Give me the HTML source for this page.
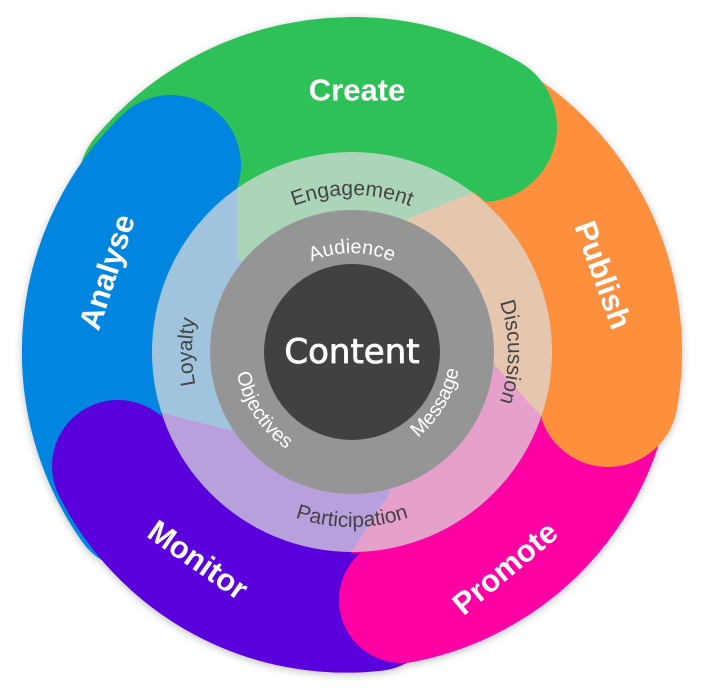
<!DOCTYPE html>
<html><head><meta charset="utf-8"><style>
html,body{margin:0;padding:0;background:#fff;overflow:hidden;width:701px;height:688px;}
svg{display:block;overflow:hidden;}
</style></head><body>
<svg width="701" height="688" viewBox="0 0 701 688" xmlns="http://www.w3.org/2000/svg">
<defs>
<filter id="sh" x="-20%" y="-20%" width="140%" height="140%"><feDropShadow dx="0" dy="2" stdDeviation="4" flood-color="#000" flood-opacity="0.25"/></filter>
<clipPath id="ann"><circle cx="352" cy="352" r="201"/></clipPath>
<path id="pEng" d="M 195 352 A 157 157 0 0 1 509 352"/>
<path id="pDis" d="M 352 196 A 156 156 0 0 1 352 508"/>
<path id="pPar" d="M 177 352 A 175 175 0 0 0 527 352"/>
<path id="pLoy" d="M 352 512 A 160 160 0 0 1 352 192"/>
<path id="pAud" d="M 253 352 A 99 99 0 0 1 451 352"/>
<path id="pObj" d="M 288 254 A 117 117 0 0 0 416 450"/>
<path id="pMes" d="M 292 452 A 117 117 0 0 0 412 252"/>
</defs>
<g fill="none" stroke-linecap="round" filter="url(#sh)">
<path d="M 153 185 A 260 260 0 0 1 482 127" stroke="#2dc158" stroke-width="150"/>
<path d="M 139 501 A 260 260 0 0 1 171 165" stroke="#0286e0" stroke-width="140"/>
<path d="M 375 605 A 255 255 0 0 1 118 466" stroke="#5a00dc" stroke-width="132"/>
<path d="M 611 329 A 260 260 0 0 1 402 600" stroke="#ff05a4" stroke-width="126"/>
<path d="M 462 116 A 260 260 0 0 1 608 397" stroke="#fd8f3e" stroke-width="140"/>
<path d="M 352 92 A 260 260 0 0 1 482 127" stroke="#2dc158" stroke-width="150"/>
</g>
<g clip-path="url(#ann)">
<polygon points="352,352 237,257 237,-100 700,-100 673,112 472,193 405,220" fill="#2dc158"/>
<polygon points="352,352 405,220 472,193 673,112 800,200 689,579 542,417 493,363" fill="#fd8f3e"/>
<polygon points="352,352 493,363 542,417 689,579 500,800 230,737 350,554 390,493" fill="#ff05a4"/>
<polygon points="352,352 390,493 350,554 230,737 -100,700 -38,362 163,413 230,430" fill="#5a00dc"/>
<polygon points="352,352 230,430 163,413 -38,362 -100,-100 237,-100 237,257" fill="#0286e0"/>
</g>
<circle cx="352" cy="352" r="200" fill="#dcdcdc" fill-opacity="0.73"/>
<circle cx="352" cy="352" r="142" fill="#959595"/>
<circle cx="352" cy="352" r="88" fill="#414141"/>
<g font-family="Liberation Sans, sans-serif" font-weight="bold" fill="#fff" font-size="31" text-anchor="middle" dominant-baseline="central">
<text x="357" y="90">Create</text>
<text transform="translate(603,275) rotate(70)">Publish</text>
<text transform="translate(505,568) rotate(-40)">Promote</text>
<text transform="translate(198,560) rotate(35)">Monitor</text>
<text transform="translate(107,272) rotate(-72)">Analyse</text>
</g>
<text x="352" y="352" font-family="DejaVu Sans, sans-serif" font-size="34" fill="#fff" stroke="#fff" stroke-width="0.8" text-anchor="middle" dominant-baseline="central">Content</text>
<g font-family="Liberation Sans, sans-serif" font-size="21" fill="#444" text-anchor="middle">
<text><textPath href="#pEng" startOffset="50%">Engagement</textPath></text>
<text><textPath href="#pDis" startOffset="50%">Discussion</textPath></text>
<text><textPath href="#pPar" startOffset="50%">Participation</textPath></text>
<text><textPath href="#pLoy" startOffset="50%">Loyalty</textPath></text>
</g>
<g font-family="Liberation Sans, sans-serif" font-size="20" fill="#fff" text-anchor="middle">
<text><textPath href="#pAud" startOffset="50%">Audience</textPath></text>
<text><textPath href="#pObj" startOffset="50%">Objectives</textPath></text>
<text><textPath href="#pMes" startOffset="50%">Message</textPath></text>
</g>
</svg>
</body></html>
